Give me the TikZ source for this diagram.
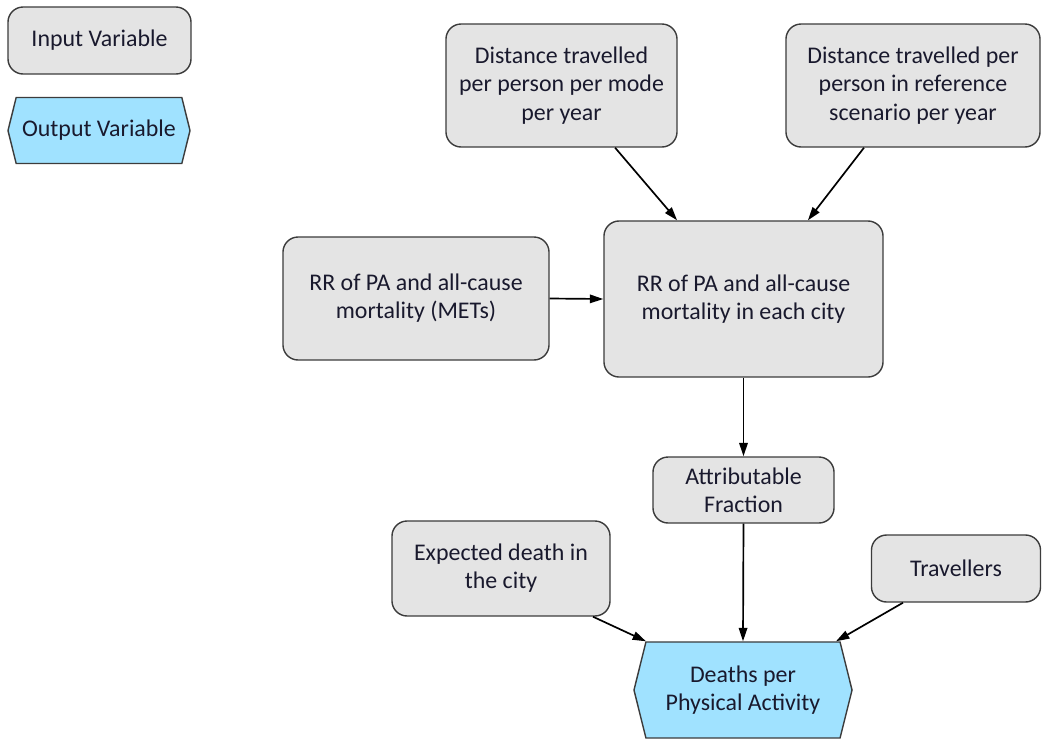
\documentclass[tikz,border=0pt]{standalone}
\usepackage{fontspec}
\setmainfont{Carlito}
\usepackage{tikz}
\usetikzlibrary{shapes.symbols, arrows.meta}

\definecolor{inputgray}{RGB}{228,228,228}
\definecolor{outputblue}{RGB}{160,226,255}
\definecolor{edgegray}{RGB}{60,60,60}
\definecolor{textnavy}{RGB}{25,25,45}

\tikzset{
    inputvar/.style={draw=edgegray, line width=1pt, fill=inputgray, rounded corners=0.38cm,
        align=center, inner sep=0pt, text=textnavy, font=\fontsize{17}{20}\selectfont},
    outputvar/.style={draw=edgegray, line width=1pt, fill=outputblue, shape=signal,
        signal to=west and east, signal pointer angle=152, align=center, inner sep=0pt,
        text=textnavy, font=\fontsize{17}{20}\selectfont},
    link/.style={-{Triangle[length=9.5pt,width=6pt]}, line width=1.2pt, black}
}

\begin{document}
\begin{tikzpicture}[x=0.025cm, y=-0.025cm]
    \useasboundingbox (0,0) rectangle (1042,739);

    % Legend
    \node[inputvar, minimum width=4.575cm, minimum height=1.675cm] (legIn) at (99.5,40.5) {Input Variable};
    \node[outputvar, minimum width=4.55cm, minimum height=1.65cm] (legOut) at (99,130.5) {Output Variable};

    % Inputs
    \node[inputvar, minimum width=5.775cm, minimum height=3.075cm] (dist) at (561.5,85.5)
        {Distance travelled\\per person per mode\\per year};
    \node[inputvar, minimum width=6.35cm, minimum height=3.075cm] (distRef) at (913,85.5)
        {Distance travelled per\\person in reference\\scenario per year};
    \node[inputvar, minimum width=6.65cm, minimum height=3.075cm] (rrMets) at (416,298.5)
        {RR of PA and all-cause\\mortality (METs)};
    \node[inputvar, minimum width=6.975cm, minimum height=3.9cm] (rrCity) at (743.5,299)
        {RR of PA and all-cause\\mortality in each city};
    \node[inputvar, minimum width=4.525cm, minimum height=1.65cm] (attFrac) at (743.5,490)
        {Attributable\\Fraction};
    \node[inputvar, minimum width=5.45cm, minimum height=2.375cm] (expDeath) at (501,568.5)
        {Expected death in\\the city};
    \node[inputvar, minimum width=4.225cm, minimum height=1.675cm] (travellers) at (956,568.5)
        {Travellers};

    % Output
    \node[outputvar, minimum width=5.45cm, minimum height=2.4cm] (deaths) at (743,690)
        {Deaths per\\Physical Activity};

    % Links
    \draw[link] ([xshift=1.34cm]dist.south) -- ([xshift=-1.66cm]rrCity.north);
    \draw[link] ([xshift=-1.225cm]distRef.south) -- ([xshift=1.61cm]rrCity.north);
    \draw[link] (rrMets.east) -- (rrCity.west);
    \draw[link] (rrCity.south) -- (attFrac.north);
    \draw[link] (attFrac.south) -- (deaths.north);
    \draw[link] ([xshift=2.3cm]expDeath.south) -- ([xshift=-2.425cm]deaths.north);
    \draw[link] ([xshift=-1.325cm]travellers.south) -- ([xshift=2.325cm]deaths.north);

\end{tikzpicture}
\end{document}
